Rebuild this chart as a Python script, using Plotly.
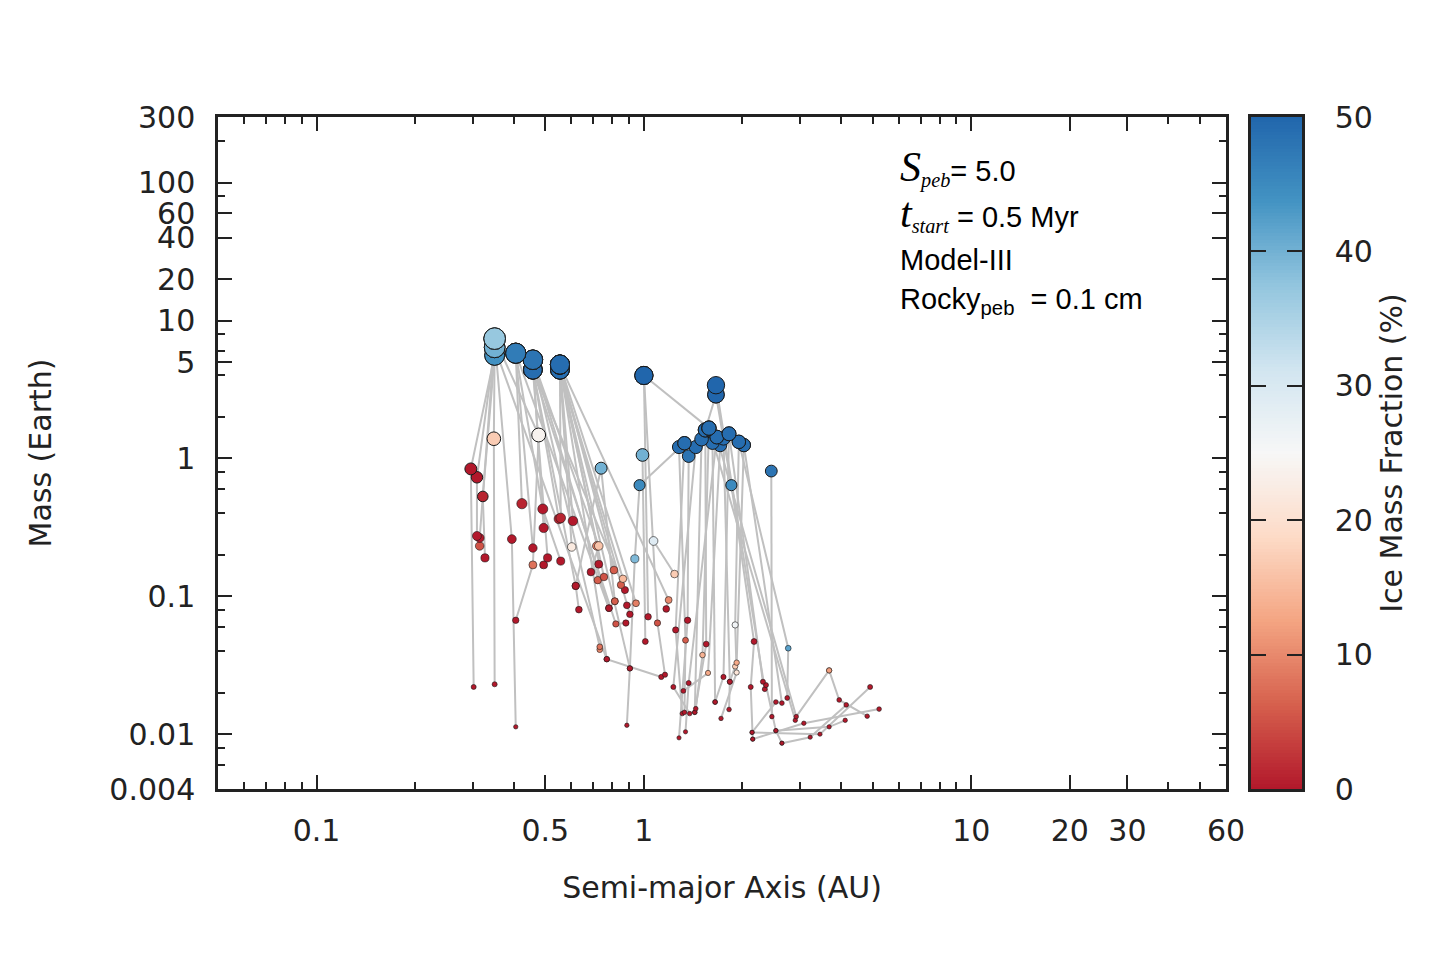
import numpy as np
import plotly.graph_objects as go

# one row per embryo track: initial body -> intermediate -> final planet
track_len = [3, 3, 3, 3, 3, 3, 4, 2, 3, 2, 2, 2, 3, 2, 3, 2, 3, 3, 3, 3,
             2, 2, 2, 3, 3, 2, 3, 3, 2, 3, 3, 3, 2, 2, 4, 2, 3, 2, 3, 3,
             3, 3, 3, 3, 3, 3, 3, 4, 5, 5, 2, 5, 3, 4, 2, 3, 3, 3, 3, 3,
             3, 2, 2, 2, 2, 2, 2, 3]

# semi-major axis (AU)
a_au = [
    0.302, 0.296, 0.350,
    0.350, 0.348, 0.350,
    0.327, 0.322, 0.350,
    0.309, 0.309, 0.350,
    0.315, 0.315, 0.350,
    0.406, 0.395, 0.350,
    0.406, 0.458, 0.477, 0.350,
    0.424, 0.406,
    0.557, 0.491, 0.406,
    0.458, 0.406,
    0.770, 0.350,
    0.494, 0.458,
    0.494, 0.508, 0.458,
    0.550, 0.458,
    0.689, 0.728, 0.458,
    0.875, 0.458,
    0.815, 0.782, 0.458,
    0.881, 0.821, 0.458,
    0.733, 0.733, 0.458,
    0.633, 0.619, 0.458,
    0.557, 0.554,
    0.607, 0.554,
    0.602, 0.554,
    0.728, 0.718, 0.554,
    0.723, 0.755, 0.554,
    0.810, 0.554,
    0.851, 0.863, 0.554,
    0.887, 0.946, 0.554,
    0.906, 0.554,
    1.13, 0.770, 0.554,
    0.887, 0.906, 0.554,
    1.17, 1.19, 0.554,
    1.03, 1.00,
    1.58, 1.00,
    0.906, 0.938, 0.97, 1.33,
    1.01, 0.99,
    0.619, 0.74, 0.815,
    1.24, 1.07,
    1.31, 1.25, 1.33,
    1.28, 1.36, 1.37,
    1.33, 1.34, 1.28,
    1.38, 1.23, 1.44,
    1.43, 1.55, 1.54,
    1.44, 1.51, 1.58,
    1.34, 1.37, 1.67,
    1.32, 1.57, 1.71,
    1.65, 1.75, 1.82,
    1.72, 1.92, 1.90, 1.95,
    1.82, 1.83, 1.90, 1.92, 2.02,
    2.15, 2.12, 2.17, 1.85, 1.66,
    2.46, 2.45,
    2.64, 2.53, 2.36, 2.31, 1.82,
    2.74, 2.76, 1.95,
    2.14, 2.53, 2.64, 2.02,
    2.90, 1.58,
    3.68, 2.92, 1.67,
    4.91, 3.45, 2.14,
    5.23, 3.08, 2.15,
    4.81, 3.95, 3.68,
    4.15, 3.22, 2.64,
    4.12, 3.68, 2.53,
    2.34, 1.66,
    1.54, 1.66,
    1.65, 1.62,
    1.83, 1.75,
    1.43, 1.50,
    0.782, 0.406,
    1.16, 1.10, 1.00,
]

# mass (Earth masses)
mass = [
    0.022, 0.84, 5.6,
    0.023, 1.39, 6.4,
    0.19, 0.53, 5.6,
    0.274, 0.73, 6.4,
    0.232, 0.265, 7.4,
    0.0113, 0.26, 7.4,
    0.067, 0.169, 1.48, 7.4,
    0.47, 5.8,
    0.18, 0.43, 5.8,
    0.224, 5.8,
    0.035, 6.4,
    0.313, 5.2,
    0.169, 0.19, 4.4,
    0.364, 4.4,
    0.15, 0.232, 5.2,
    0.111, 4.4,
    0.092, 0.082, 5.2,
    0.064, 0.063, 4.4,
    0.041, 0.043, 5.2,
    0.080, 0.119, 4.4,
    0.37, 4.8,
    0.352, 4.8,
    0.228, 4.4,
    0.171, 0.232, 4.8,
    0.131, 0.138, 4.4,
    0.155, 4.8,
    0.121, 0.134, 4.4,
    0.086, 0.089, 4.8,
    0.074, 4.4,
    0.026, 0.035, 4.8,
    0.0116, 0.030, 4.4,
    0.081, 0.094, 4.8,
    0.071, 4.0,
    1.66, 4.0,
    0.030, 0.187, 0.64, 1.29,
    0.047, 1.06,
    0.119, 0.85, 0.092,
    0.145, 0.252,
    0.0141, 0.057, 1.29,
    0.0094, 0.067, 1.04,
    0.0144, 0.048, 1.21,
    0.0141, 0.022, 1.21,
    0.0144, 0.045, 1.61,
    0.0153, 0.0375, 1.66,
    0.0104, 0.0235, 1.43,
    0.0206, 0.0278, 1.25,
    0.0171, 0.026, 1.51,
    0.0130, 0.028, 0.062, 1.32,
    0.0151, 0.024, 0.031, 0.033, 1.25,
    0.0092, 0.022, 0.047, 0.64, 2.9,
    0.0134, 0.81,
    0.0086, 0.0106, 0.0227, 0.024, 1.51,
    0.0183, 0.042, 1.32,
    0.0103, 0.0171, 0.0168, 1.25,
    0.0126, 1.66,
    0.029, 0.0134, 1.43,
    0.022, 0.0100, 0.0103,
    0.0152, 0.0120, 0.0092,
    0.0135, 0.0177, 0.029,
    0.0163, 0.0095, 0.0086,
    0.0126, 0.0113, 0.0106,
    0.0212, 3.4,
    1.61, 2.9,
    0.0171, 1.30,
    0.024, 1.40,
    0.0144, 1.38,
    0.082, 5.8,
    0.027, 0.064, 4.0,
]

# ice mass fraction (%)
ice = [
    0, 0, 44,
    0, 17, 40,
    0, 1, 44,
    0, 0, 40,
    5, 0, 37,
    0, 0, 37,
    0, 8, 24, 37,
    1, 47,
    0, 0, 47,
    0, 47,
    0, 40,
    0, 48,
    0, 0, 49,
    1, 49,
    0, 16, 48,
    0, 49,
    6, 0, 48,
    0, 5, 49,
    10, 8, 48,
    0, 0, 49,
    1, 49,
    0, 49,
    22, 49,
    0, 9, 49,
    6, 5, 49,
    6, 49,
    6, 15, 49,
    0, 9, 49,
    0, 49,
    0, 0, 49,
    0, 0, 49,
    0, 10, 49,
    0, 50,
    49, 50,
    0, 39, 45, 49,
    0, 40,
    0, 40, 6,
    17, 29,
    0, 0, 49,
    0, 0, 48,
    0, 6, 49,
    0, 0, 49,
    0, 0, 49,
    0, 14, 49,
    0, 0, 49,
    0, 13, 49,
    0, 0, 49,
    0, 21, 26, 49,
    0, 0, 17, 13, 49,
    0, 0, 0, 45, 50,
    0, 48,
    0, 0, 0, 0, 49,
    0, 42, 49,
    0, 0, 0, 49,
    0, 49,
    12, 0, 49,
    0, 0, 0,
    0, 0, 0,
    0, 0, 12,
    0, 0, 0,
    0, 0, 0,
    0, 50,
    49, 50,
    0, 49,
    0, 49,
    0, 49,
    0, 47,
    0, 5, 50,
]

x_ticks = [0.1, 0.5, 1, 10, 20, 30, 60]
x_minor = [0.06, 0.07, 0.08, 0.09, 0.2, 0.3, 0.4, 0.6, 0.7, 0.8, 0.9,
           2, 3, 4, 5, 6, 7, 8, 9, 40, 50]
y_ticks = [0.004, 0.01, 0.1, 1, 5, 10, 20, 40, 60, 100, 300]
y_minor = [0.006, 0.008, 0.02, 0.04, 0.06, 0.08, 0.2, 0.4, 0.6, 0.8,
           2, 4, 6, 8, 80, 200]
cb_ticks = [0, 10, 20, 30, 40, 50]

RDBU = [[0.0, 'rgb(178,24,43)'], [0.125, 'rgb(214,96,77)'],
        [0.25, 'rgb(244,165,130)'], [0.375, 'rgb(253,219,199)'],
        [0.5, 'rgb(247,247,247)'], [0.625, 'rgb(209,229,240)'],
        [0.75, 'rgb(146,197,222)'], [0.875, 'rgb(67,147,195)'],
        [1.0, 'rgb(33,102,172)']]

assert sum(track_len) == len(a_au) == len(mass) == len(ice)

a = np.array(a_au)
m = np.array(mass)
f = np.array(ice)

# gray paths, one polyline per track
lx, ly = [], []
start = 0
for n in track_len:
    lx += list(a[start:start + n]) + [None]
    ly += list(m[start:start + n]) + [None]
    start += n

order = np.argsort(m)
sizes = 11 * m[order] ** 0.3 + 1.5
edge_w = np.where(m[order] > 0.5, 1.0, 0.6)

INK = '#222222'
TICKFONT = dict(family='DejaVu Sans', size=30, color=INK)
TITLEFONT = dict(family='DejaVu Sans', size=30, color=INK)

fig = go.Figure()

fig.add_trace(go.Scatter(x=lx, y=ly, mode='lines',
                         line=dict(color='#c0c0c0', width=2),
                         hoverinfo='skip', showlegend=False))

fig.add_trace(go.Scatter(x=a[order], y=m[order], mode='markers',
                         marker=dict(size=sizes, color=f[order],
                                     colorscale=RDBU, cmin=0, cmax=50,
                                     opacity=1,
                                     line=dict(color='#1a1a1a', width=edge_w)),
                         showlegend=False))

# colour bar drawn as its own little axis so ticks sit on both edges
cb_levels = np.linspace(0, 50, 201)
fig.add_trace(go.Heatmap(x=[0.5], y=cb_levels, z=[[v] for v in cb_levels],
                         colorscale=RDBU, zmin=0, zmax=50, showscale=False,
                         hoverinfo='skip', xaxis='x2', yaxis='y2'))

# the page shifts the figure a few px, so the plot box is placed 6px up/left
main_right = 1008 / 1084
cb_left = (1249 - 216) / 1084

fig.update_layout(
    width=1440, height=960,
    margin=dict(l=210, r=146, t=109, b=179, autoexpand=False),
    paper_bgcolor='white', plot_bgcolor='white',
    xaxis=dict(
        domain=[0, main_right], type='log', automargin=False,
        range=[np.log10(0.05), np.log10(60)],
        tickmode='array', tickvals=x_ticks, ticktext=[str(v) for v in x_ticks],
        ticks='inside', ticklen=14, tickwidth=2, tickcolor=INK,
        minor=dict(tickmode='array', tickvals=x_minor, ticks='inside',
                   ticklen=7, tickwidth=1.5, tickcolor=INK),
        showline=True, linewidth=2.5, linecolor=INK, mirror='ticks',
        showgrid=False, zeroline=False, tickfont=TICKFONT,
        ticklabelstandoff=13,
        title=dict(text='Semi-major Axis (AU)', font=TITLEFONT, standoff=31),
    ),
    yaxis=dict(
        type='log', range=[np.log10(0.004), np.log10(300)], automargin=False,
        tickmode='array', tickvals=y_ticks, ticktext=[str(v) for v in y_ticks],
        ticks='inside', ticklen=14, tickwidth=2, tickcolor=INK,
        minor=dict(tickmode='array', tickvals=y_minor, ticks='inside',
                   ticklen=7, tickwidth=1.5, tickcolor=INK),
        showline=True, linewidth=2.5, linecolor=INK, mirror='ticks',
        showgrid=False, zeroline=False, tickfont=TICKFONT,
        ticklabelstandoff=14,
        title=dict(text='Mass (Earth)', font=TITLEFONT, standoff=49),
    ),
    xaxis2=dict(
        domain=[cb_left, 1.0], anchor='y2', range=[0, 1], automargin=False,
        showticklabels=False, ticks='', showline=True, mirror=True,
        linewidth=2.5, linecolor=INK, showgrid=False, zeroline=False,
        fixedrange=True,
    ),
    yaxis2=dict(
        domain=[0, 1], anchor='x2', side='right', range=[0, 50],
        automargin=False,
        tickmode='array', tickvals=cb_ticks,
        ticks='inside', ticklen=15, tickwidth=2, tickcolor=INK,
        showline=True, linewidth=2.5, linecolor=INK, mirror='ticks',
        showgrid=False, zeroline=False, tickfont=TICKFONT,
        ticklabelstandoff=24,
        title=dict(text='Ice Mass Fraction (%)', font=TITLEFONT, standoff=10),
    ),
)

SERIF = 'font-family:Liberation Serif'
labels = [
    f'<span style="{SERIF};font-size:42px"><i>S</i></span>'
    f'<sub><span style="{SERIF}"><i>peb</i></span></sub>= 5.0',
    f'<span style="{SERIF};font-size:42px"><i>t</i></span>'
    f'<sub><span style="{SERIF}"><i>start</i></span></sub> = 0.5 Myr',
    'Model-III',
    'Rocky<sub>peb</sub>  = 0.1 cm',
]
label_y = [0.924, 0.857, 0.787, 0.726]
for txt, yy in zip(labels, label_y):
    fig.add_annotation(text=txt, x=(896 - 216) / 1084, y=yy,
                       xref='paper', yref='paper', xanchor='left',
                       yanchor='middle', showarrow=False, align='left',
                       font=dict(family='Liberation Sans', size=29,
                                 color='black'))

fig.write_html("out.html")
